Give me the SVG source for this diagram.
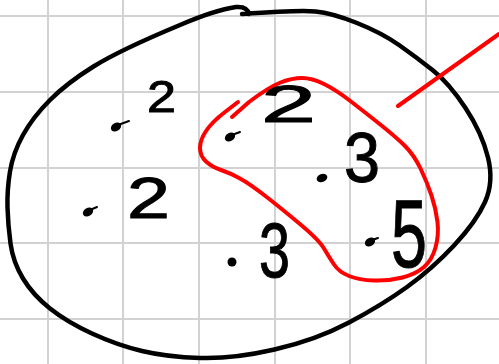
<svg xmlns="http://www.w3.org/2000/svg" width="499" height="364" viewBox="0 0 499 364">
<style>
.grid{stroke:#d2d2d2;stroke-width:2;fill:none}
.ink{stroke:#000;stroke-width:4.5;fill:none;stroke-linecap:round;stroke-linejoin:round}
.red{stroke:#f00;stroke-width:4;fill:none;stroke-linecap:round;stroke-linejoin:round}
.dot{fill:#000}
.tail{stroke:#000;stroke-width:2;stroke-linecap:round}
.num{font-family:"Liberation Sans","DejaVu Sans",sans-serif;fill:#000;stroke:#000;stroke-width:1}
</style>
<rect width="499" height="364" fill="#fff"/>
<g id="grid" class="grid">
<path d="M48 0V364M123 0V364M199 0V364M275 0V364M350 0V364M426 0V364M0 16H499M0 92H499M0 168H499M0 243H499M0 319H499"/>
</g>
<g id="set">
<path class="ink" d="M249,14 Q247,6 236,7 Q215,10 180,25 Q120,50 93.5,66.5 Q67,83 50,100 Q33,117 23,135 Q13,153 10,171.5 Q7,190 7.5,207.5 Q8,225 10.5,243.5 Q13,262 23,278.5 Q33,295 50,308.5 Q67,322 92,333.5 Q117,345 142,351 Q167,357 200,358 Q233,359 274.5,349.5 Q316,340 349,322.5 Q382,305 407,287 Q432,269 454,245.5 Q476,222 485,202 Q494,182 488,157.5 Q482,133 465.5,108 Q449,83 432.5,70 Q416,57 399,45 Q382,33 357,23 Q332,13 315.5,11.5 Q299,10 242,14"/>
</g>
<g id="subset">
<path class="red" d="M232,117 L249,102 Q269,87 280.5,82.5 Q292,78 302,78 Q312,78 324,84 Q336,90 349,100 Q362,110 379,123.5 Q396,137 405,146 Q414,155 420.5,168.5 Q427,182 431.5,195.5 Q436,209 437.5,222 Q439,235 435.5,247.5 Q432,260 424,267 Q416,274 402.5,277.5 Q389,281 374,280.5 Q359,280 349,276 Q339,272 334,264.5 Q329,257 324,248.5 Q319,240 300.5,224.5 Q282,209 266,196.5 Q250,184 240,178.5 Q230,173 221,170 Q212,167 206,161.5 Q200,156 200,148 Q200,140 206,131 Q212,122 225,112 L238,102"/>
</g>
<g id="connectors">
<path class="red" d="M398,106 L499,34"/>
</g>
<g id="p1">
<ellipse class="dot" cx="116" cy="127" rx="5.5" ry="4" transform="rotate(-30 116 127)"/>
<line class="tail" x1="118" y1="125" x2="129" y2="121"/>
<text class="num" x="147" y="112" font-size="45" textLength="29" lengthAdjust="spacingAndGlyphs">2</text>
</g>
<g id="p2">
<ellipse class="dot" cx="230" cy="137" rx="5.5" ry="4" transform="rotate(-30 230 137)"/>
<line class="tail" x1="232" y1="135" x2="240" y2="132"/>
<text class="num" x="261" y="122" font-size="52" textLength="55" lengthAdjust="spacingAndGlyphs">2</text>
</g>
<g id="p3">
<ellipse class="dot" cx="88" cy="212" rx="5.5" ry="4" transform="rotate(-30 88 212)"/>
<line class="tail" x1="90" y1="210" x2="97" y2="207"/>
<text class="num" x="127" y="218" font-size="57" textLength="43" lengthAdjust="spacingAndGlyphs">2</text>
</g>
<g id="p4">
<circle class="dot" cx="232" cy="262" r="4.5"/>
<text class="num" x="259" y="277" font-size="78" textLength="31" lengthAdjust="spacingAndGlyphs">3</text>
</g>
<g id="p5">
<ellipse class="dot" cx="322" cy="178" rx="5.5" ry="4" transform="rotate(-20 322 178)"/>
<text class="num" x="344" y="182" font-size="70" textLength="36" lengthAdjust="spacingAndGlyphs">3</text>
</g>
<g id="p6">
<ellipse class="dot" cx="370" cy="242" rx="5.5" ry="4" transform="rotate(-30 370 242)"/>
<line class="tail" x1="372" y1="240" x2="378" y2="238"/>
<text class="num" x="391" y="267" font-size="97" textLength="36" lengthAdjust="spacingAndGlyphs">5</text>
</g>
</svg>
